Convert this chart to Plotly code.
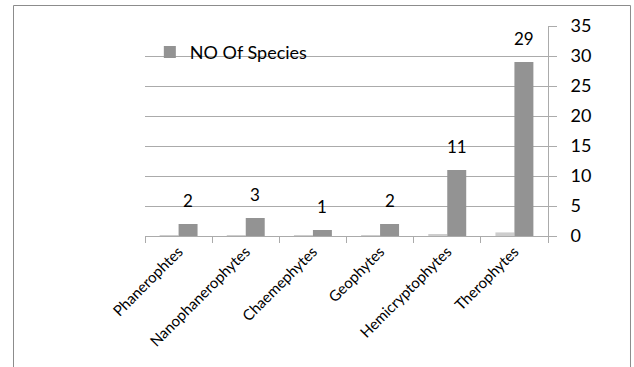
import plotly.graph_objects as go

# Life-form spectrum: number of species per Raunkiaer class
categories = ["Phanerophtes", "Nanophanerophytes", "Chaemephytes",
              "Geophytes", "Hemicryptophytes", "Therophytes"]
species_counts = [2, 3, 1, 2, 11, 29]
species_share = [0.04, 0.06, 0.02, 0.04, 0.23, 0.6]   # fraction of total species
y_ticks = [0, 5, 10, 15, 20, 25, 30, 35]

GRID = "#ababab"
FONT = "Lato"

fig = go.Figure()
fig.add_trace(go.Bar(
    x=categories, y=species_share, name="Share",
    marker=dict(color="#cdcdcd", line=dict(width=0)),
    showlegend=False, hoverinfo="skip",
))
fig.add_trace(go.Bar(
    x=categories, y=species_counts, name="NO Of Species",
    marker=dict(color="#939393", line=dict(width=0)),
))

# value labels above the species bars
for cat, val in zip(categories, species_counts):
    fig.add_annotation(
        x=cat, y=val, text=str(val), showarrow=False,
        xshift=9.5, yshift=24, yanchor="middle",
        font=dict(family=FONT, size=17, color="#000000"),
    )

# outer chart frame
fig.add_shape(
    type="rect", xref="paper", yref="paper",
    x0=-0.3263, x1=1.2047, y0=1.0976, y1=-0.70,
    line=dict(color="#8c8c8c", width=1), layer="below",
)

fig.update_layout(
    width=634, height=367,
    margin=dict(l=145, r=86, t=26, b=131),
    paper_bgcolor="white", plot_bgcolor="white",
    barmode="group", bargap=0.435, bargroupgap=0,
    font=dict(family=FONT, color="#000000"),
    legend=dict(
        x=0.012, y=0.875, xanchor="left", yanchor="middle",
        bgcolor="rgba(0,0,0,0)", font=dict(family=FONT, size=18),
        itemwidth=30,
    ),
    xaxis=dict(
        showgrid=False, showline=True, linecolor=GRID, linewidth=1,
        ticks="outside", tickson="boundaries", ticklen=6, tickcolor=GRID,
        tickangle=-45, tickfont=dict(family=FONT, size=15),
    ),
    yaxis=dict(
        side="right", range=[0, 35], tickvals=y_ticks,
        showgrid=True, gridcolor=GRID, gridwidth=1, zeroline=False,
        showline=True, linecolor=GRID, linewidth=1,
        ticks="outside", ticklen=8, tickcolor=GRID,
        tickfont=dict(family=FONT, size=18),
        ticklabelstandoff=10,
    ),
)

fig.write_html("out.html")
